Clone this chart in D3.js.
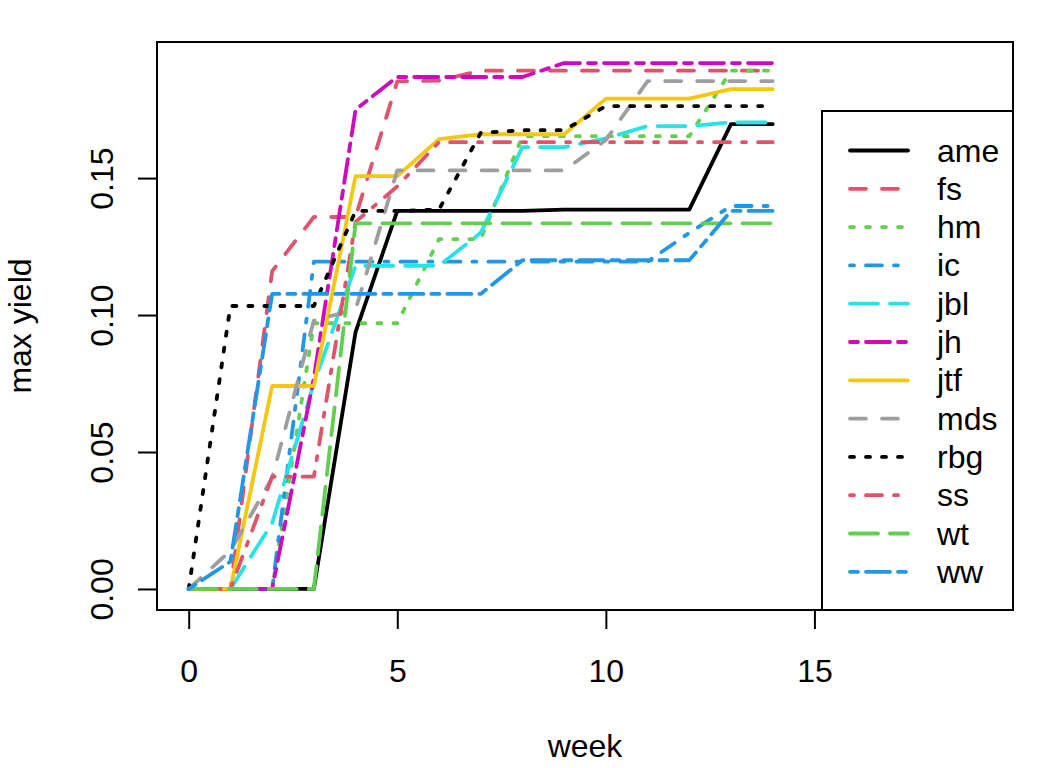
<!DOCTYPE html>
<html>
<head>
<meta charset="utf-8">
<script src="https://cdn.jsdelivr.net/npm/d3@7"></script>
<style>
  body { margin: 0; background: #fff; }
  text { font-family: "Liberation Sans", Arial, Helvetica, sans-serif; }
</style>
</head>
<body>
<div id="chart"></div>
<script>
// Data

const weeks = [0, 1, 2, 3, 4, 5, 6, 7, 8, 9, 10, 11, 12, 13, 14];

const sites = ["ame", "fs", "hm", "ic", "jbl", "jh", "jtf", "mds", "rbg", "ss", "wt", "ww"];

const ame = [0, 0, 0, 0, 0.0938, 0.138, 0.138, 0.138, 0.138, 0.1385, 0.1385, 0.1385, 0.1385, 0.1697, 0.1697];
const fs  = [0, 0, 0.116, 0.1358, 0.1358, 0.1853, 0.1856, 0.1892, 0.1892, 0.1892, 0.1892, 0.1892, 0.1892, 0.1892, 0.1892];
const hm  = [0, 0, 0, 0.097, 0.097, 0.097, 0.1277, 0.1277, 0.1653, 0.1653, 0.1653, 0.1653, 0.1653, 0.1892, 0.1892];
const ic  = [0, 0, 0, 0.1195, 0.1195, 0.1195, 0.1195, 0.1195, 0.1195, 0.1195, 0.1195, 0.1195, 0.130, 0.1398, 0.1398];
const jbl = [0, 0, 0.024, 0.075, 0.118, 0.118, 0.118, 0.130, 0.1613, 0.1613, 0.1645, 0.169, 0.169, 0.1703, 0.1703];
const jh  = [0, 0, 0, 0.077, 0.175, 0.1869, 0.1869, 0.1869, 0.1869, 0.192, 0.192, 0.192, 0.192, 0.192, 0.192];
const jtf = [0, 0, 0.0741, 0.0741, 0.1507, 0.1507, 0.1642, 0.166, 0.166, 0.166, 0.179, 0.179, 0.179, 0.1825, 0.1825];
const mds = [0, 0.014, 0.0405, 0.098, 0.102, 0.1528, 0.1528, 0.1528, 0.1528, 0.1528, 0.1639, 0.1854, 0.1854, 0.1854, 0.1854];
const rbg = [0, 0.1033, 0.1033, 0.1033, 0.138, 0.138, 0.1385, 0.1665, 0.1675, 0.1675, 0.1763, 0.1763, 0.1763, 0.1763, 0.1763];
const ss  = [0, 0, 0.041, 0.041, 0.134, 0.147, 0.1631, 0.1631, 0.1631, 0.1631, 0.1631, 0.1631, 0.1631, 0.1631, 0.1631];
const wt  = [0, 0, 0, 0, 0.1335, 0.1335, 0.1335, 0.1335, 0.1335, 0.1335, 0.1335, 0.1335, 0.1335, 0.1335, 0.1335];
const ww  = [0, 0.01, 0.1077, 0.1077, 0.1077, 0.1077, 0.1077, 0.1077, 0.120, 0.120, 0.120, 0.120, 0.120, 0.138, 0.138];

const seriesValues = [ame, fs, hm, ic, jbl, jh, jtf, mds, rbg, ss, wt, ww];

const xTicks = [0, 5, 10, 15];
const yTicks = [0, 0.05, 0.1, 0.15];
const xLimit = [0, 19];

// Styles (R palette + lty 1:6)

const palette = ["#000000", "#DF536B", "#61D04F", "#2297E6", "#28E2E5", "#CD0BBC", "#F5C710", "#9E9E9E"];
const dashes = [null, "16 16", "4 12", "4 12 16 12", "28 12", "8 8 24 8"];
const lineWidth = 3.8;
const fontFamily = "Liberation Sans, Arial, Helvetica, sans-serif";

const series = sites.map((name, i) => ({
  name: name,
  values: seriesValues[i],
  color: palette[i % palette.length],
  dash: dashes[i % dashes.length],
}));

// Core chart

const width = 1056;
const height = 768;

const margin = {
  top: 42,
  bottom: 158,
  left: 157,
  right: 43,
};

const svg = d3
  .select("#chart")
  .append("svg")
  .attr("width", width)
  .attr("height", height);

const xPad = 0.04 * (xLimit[1] - xLimit[0]);
const xScale = d3
  .scaleLinear()
  .domain([xLimit[0] - xPad, xLimit[1] + xPad])
  .range([margin.left, width - margin.right]);

const yMin = d3.min(seriesValues, (s) => d3.min(s));
const yMax = d3.max(seriesValues, (s) => d3.max(s));
const yPad = 0.04 * (yMax - yMin);
const yScale = d3
  .scaleLinear()
  .domain([yMin - yPad, yMax + yPad])
  .range([height - margin.bottom, margin.top]);

const line = d3
  .line()
  .x((d, i) => xScale(weeks[i]))
  .y((d) => yScale(d));

svg
  .append("g")
  .selectAll("path")
  .data(series)
  .enter()
  .append("path")
  .attr("fill", "none")
  .attr("stroke", (d) => d.color)
  .attr("stroke-width", lineWidth)
  .attr("stroke-linecap", "round")
  .attr("stroke-linejoin", "round")
  .attr("stroke-dasharray", (d) => d.dash)
  .attr("d", (d) => line(d.values));

// Axis

svg
  .append("g")
  .attr("transform", `translate(0, ${height - margin.bottom})`)
  .call(d3.axisBottom(xScale).tickValues(xTicks).tickSize(19).tickPadding(30).tickFormat(d3.format("d")))
  .attr("font-size", 32)
  .attr("font-family", fontFamily)
  .call((g) => g.select(".domain").remove())
  .call((g) => g.selectAll(".tick line").attr("stroke", "#000").attr("stroke-width", 2))
  .call((g) => g.selectAll(".tick text").attr("fill", "#000"));

svg
  .append("g")
  .attr("transform", `translate(${margin.left}, 0)`)
  .call(d3.axisLeft(yScale).tickValues(yTicks).tickSize(19).tickFormat(d3.format(".2f")))
  .attr("font-size", 32)
  .attr("font-family", fontFamily)
  .call((g) => g.select(".domain").remove())
  .call((g) => g.selectAll(".tick line").attr("stroke", "#000").attr("stroke-width", 2))
  .call((g) =>
    g
      .selectAll(".tick text")
      .attr("fill", "#000")
      .attr("x", 0)
      .attr("dy", 0)
      .attr("text-anchor", "middle")
      .attr("transform", "translate(-44, 0) rotate(-90)")
  );

// Plot box

svg
  .append("rect")
  .attr("x", margin.left)
  .attr("y", margin.top)
  .attr("width", width - margin.left - margin.right)
  .attr("height", height - margin.top - margin.bottom)
  .attr("fill", "none")
  .attr("stroke", "#000")
  .attr("stroke-width", 2);

svg
  .append("text")
  .attr("x", (margin.left + width - margin.right) / 2)
  .attr("y", 757)
  .attr("text-anchor", "middle")
  .attr("font-size", 32)
  .text("week");

svg
  .append("text")
  .attr("x", -(margin.top + height - margin.bottom) / 2)
  .attr("y", 31)
  .attr("transform", "rotate(-90)")
  .attr("text-anchor", "middle")
  .attr("font-size", 32)
  .text("max yield");

// Legend (bottom right)

const legend = { left: 822, top: 111, rowStart: 150.5, rowStep: 38.3 };

svg
  .append("rect")
  .attr("x", legend.left)
  .attr("y", legend.top)
  .attr("width", width - margin.right - legend.left)
  .attr("height", height - margin.bottom - legend.top)
  .attr("fill", "#fff")
  .attr("stroke", "#000")
  .attr("stroke-width", 2);

const rows = svg
  .append("g")
  .selectAll("g")
  .data(series)
  .enter()
  .append("g")
  .attr("transform", (d, i) => `translate(0, ${legend.rowStart + i * legend.rowStep})`);

rows
  .append("line")
  .attr("x1", 850)
  .attr("x2", 908)
  .attr("stroke", (d) => d.color)
  .attr("stroke-width", lineWidth)
  .attr("stroke-linecap", "round")
  .attr("stroke-dasharray", (d) => d.dash);

rows
  .append("text")
  .attr("x", 937)
  .attr("y", 11)
  .attr("font-size", 32)
  .text((d) => d.name);
</script>
</body>
</html>
